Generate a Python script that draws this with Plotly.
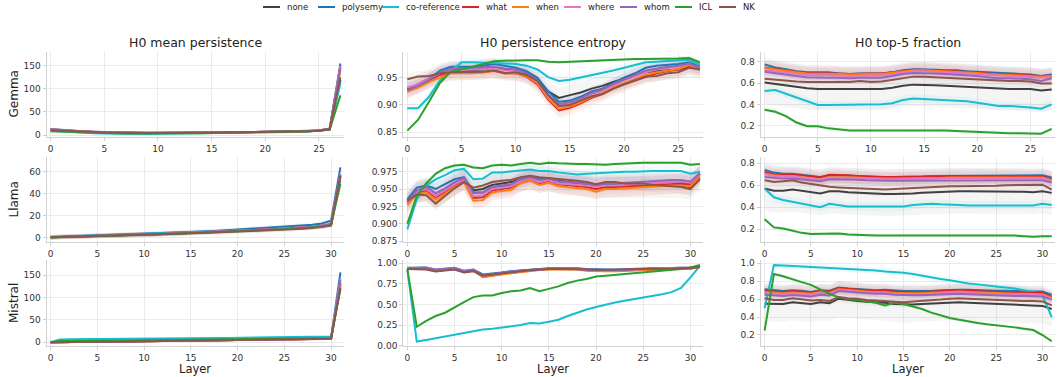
import plotly.graph_objects as go

SERIES = ["none", "polysemy", "co-reference", "what", "when", "where", "whom", "ICL", "NK"]
COLORS = ["#404040", "#1f77b4", "#17becf", "#d62728", "#ff7f0e", "#e377c2", "#9467bd", "#2ca02c", "#8c564b"]
MODELS = ["Gemma", "Llama", "Mistral"]
METRICS = ["H0 mean persistence", "H0 persistence entropy", "H0 top-5 fraction"]
LAYERS = {"Gemma": list(range(28)), "Llama": list(range(32)), "Mistral": list(range(32))}

# ---------------- Gemma ----------------
gemma_mp = {
    "none": [10, 9, 8, 7, 6.2, 5.5, 5, 4.6, 4.4, 4.3, 4.3, 4.4, 4.6, 4.8, 5, 5.2, 5.4, 5.6, 5.8, 6, 6.2, 6.5, 6.8, 7.3, 8, 9.2, 12.5, 120],
    "polysemy": [13, 11, 9.5, 8.2, 7.2, 6.4, 5.8, 5.3, 5, 4.9, 4.9, 5, 5.2, 5.4, 5.6, 5.8, 6, 6.2, 6.4, 6.6, 6.9, 7.2, 7.5, 8, 8.8, 10, 14, 155],
    "co-reference": [9, 7.5, 6, 5, 4, 3.3, 2.8, 2.5, 2.4, 2.4, 2.5, 2.7, 3, 3.3, 3.6, 3.9, 4.2, 4.5, 4.8, 5.1, 5.4, 5.8, 6.2, 6.8, 7.6, 9, 12, 112],
    "what": [12, 10.2, 8.8, 7.6, 6.7, 6, 5.4, 5, 4.7, 4.6, 4.6, 4.7, 4.9, 5.1, 5.3, 5.5, 5.7, 5.9, 6.1, 6.3, 6.6, 6.9, 7.2, 7.7, 8.5, 9.7, 13.5, 148],
    "when": [11.5, 9.8, 8.5, 7.4, 6.5, 5.8, 5.2, 4.8, 4.5, 4.4, 4.4, 4.5, 4.7, 4.9, 5.1, 5.3, 5.5, 5.7, 5.9, 6.1, 6.4, 6.7, 7, 7.5, 8.3, 9.5, 13.2, 140],
    "where": [12.5, 10.5, 9, 7.8, 6.9, 6.2, 5.6, 5.1, 4.8, 4.7, 4.7, 4.8, 5, 5.2, 5.4, 5.6, 5.8, 6, 6.2, 6.4, 6.7, 7, 7.3, 7.8, 8.6, 9.8, 13.8, 150],
    "whom": [12, 10, 8.7, 7.5, 6.6, 5.9, 5.3, 4.9, 4.6, 4.5, 4.5, 4.6, 4.8, 5, 5.2, 5.4, 5.6, 5.8, 6, 6.2, 6.5, 6.8, 7.1, 7.6, 8.4, 9.6, 13.5, 145],
    "ICL": [8, 7, 6, 5.2, 4.5, 4, 3.6, 3.3, 3.1, 3, 3, 3.1, 3.3, 3.6, 3.9, 4.2, 4.5, 4.8, 5.1, 5.4, 5.8, 6.2, 6.7, 7.3, 8.2, 9.6, 12, 86],
    "NK": [10.5, 9.2, 8, 7, 6.2, 5.5, 5, 4.6, 4.4, 4.3, 4.3, 4.4, 4.6, 4.8, 5, 5.2, 5.4, 5.6, 5.8, 6, 6.2, 6.5, 6.8, 7.3, 8, 9.2, 12.5, 125],
}
gemma_ent = {
    "none": [0.930, 0.938, 0.948, 0.958, 0.962, 0.963, 0.964, 0.965, 0.968, 0.965, 0.963, 0.958, 0.945, 0.925, 0.913, 0.918, 0.923, 0.930, 0.935, 0.942, 0.948, 0.953, 0.960, 0.962, 0.963, 0.965, 0.970, 0.966],
    "polysemy": [0.930, 0.937, 0.947, 0.963, 0.970, 0.970, 0.970, 0.972, 0.975, 0.972, 0.968, 0.962, 0.950, 0.925, 0.906, 0.908, 0.915, 0.925, 0.930, 0.940, 0.950, 0.958, 0.968, 0.972, 0.973, 0.975, 0.978, 0.970],
    "co-reference": [0.894, 0.894, 0.915, 0.945, 0.962, 0.978, 0.978, 0.978, 0.977, 0.976, 0.975, 0.972, 0.965, 0.951, 0.944, 0.946, 0.950, 0.955, 0.958, 0.963, 0.968, 0.973, 0.978, 0.979, 0.980, 0.982, 0.983, 0.974],
    "what": [0.928, 0.935, 0.945, 0.955, 0.960, 0.960, 0.960, 0.960, 0.963, 0.958, 0.958, 0.952, 0.938, 0.910, 0.890, 0.895, 0.903, 0.913, 0.920, 0.930, 0.938, 0.945, 0.952, 0.958, 0.962, 0.965, 0.972, 0.965],
    "when": [0.924, 0.932, 0.942, 0.950, 0.958, 0.958, 0.958, 0.960, 0.962, 0.958, 0.958, 0.953, 0.940, 0.912, 0.893, 0.897, 0.905, 0.915, 0.922, 0.932, 0.940, 0.947, 0.955, 0.960, 0.963, 0.966, 0.973, 0.966],
    "where": [0.932, 0.938, 0.948, 0.958, 0.963, 0.964, 0.964, 0.965, 0.967, 0.963, 0.962, 0.957, 0.943, 0.915, 0.898, 0.902, 0.910, 0.920, 0.926, 0.936, 0.945, 0.952, 0.960, 0.965, 0.968, 0.970, 0.976, 0.968],
    "whom": [0.927, 0.935, 0.946, 0.960, 0.966, 0.967, 0.967, 0.968, 0.970, 0.967, 0.965, 0.958, 0.945, 0.918, 0.902, 0.905, 0.912, 0.922, 0.928, 0.938, 0.947, 0.955, 0.963, 0.967, 0.970, 0.972, 0.976, 0.968],
    "ICL": [0.853, 0.873, 0.906, 0.940, 0.961, 0.965, 0.970, 0.975, 0.980, 0.981, 0.982, 0.982, 0.982, 0.979, 0.978, 0.979, 0.980, 0.981, 0.982, 0.983, 0.983, 0.984, 0.984, 0.984, 0.985, 0.985, 0.986, 0.978],
    "NK": [0.947, 0.952, 0.953, 0.958, 0.960, 0.960, 0.961, 0.961, 0.963, 0.958, 0.960, 0.955, 0.944, 0.918, 0.898, 0.900, 0.908, 0.916, 0.920, 0.930, 0.938, 0.945, 0.952, 0.953, 0.958, 0.960, 0.968, 0.965],
}
gemma_top5 = {
    "none": [0.605, 0.59, 0.575, 0.56, 0.55, 0.545, 0.545, 0.545, 0.54, 0.545, 0.545, 0.545, 0.555, 0.575, 0.585, 0.585, 0.58, 0.575, 0.57, 0.565, 0.56, 0.555, 0.545, 0.545, 0.545, 0.545, 0.53, 0.54],
    "polysemy": [0.775, 0.745, 0.73, 0.71, 0.70, 0.70, 0.70, 0.69, 0.685, 0.69, 0.69, 0.69, 0.70, 0.72, 0.73, 0.73, 0.725, 0.72, 0.72, 0.71, 0.705, 0.70, 0.69, 0.69, 0.685, 0.68, 0.665, 0.68],
    "co-reference": [0.525, 0.535, 0.50, 0.465, 0.43, 0.395, 0.395, 0.395, 0.395, 0.40, 0.40, 0.40, 0.41, 0.44, 0.455, 0.45, 0.445, 0.435, 0.435, 0.43, 0.415, 0.40, 0.385, 0.385, 0.38, 0.37, 0.36, 0.40],
    "what": [0.745, 0.73, 0.72, 0.705, 0.695, 0.695, 0.695, 0.69, 0.685, 0.69, 0.69, 0.69, 0.70, 0.715, 0.725, 0.725, 0.72, 0.715, 0.715, 0.705, 0.70, 0.69, 0.685, 0.685, 0.68, 0.675, 0.665, 0.67],
    "when": [0.74, 0.725, 0.715, 0.70, 0.69, 0.69, 0.69, 0.685, 0.68, 0.685, 0.685, 0.685, 0.695, 0.71, 0.72, 0.72, 0.715, 0.71, 0.71, 0.70, 0.695, 0.685, 0.68, 0.68, 0.675, 0.67, 0.66, 0.665],
    "where": [0.72, 0.71, 0.70, 0.685, 0.675, 0.675, 0.675, 0.67, 0.665, 0.67, 0.67, 0.67, 0.68, 0.70, 0.71, 0.71, 0.705, 0.70, 0.70, 0.69, 0.685, 0.675, 0.67, 0.67, 0.665, 0.66, 0.65, 0.655],
    "whom": [0.705, 0.69, 0.68, 0.665, 0.655, 0.65, 0.65, 0.65, 0.645, 0.65, 0.65, 0.65, 0.665, 0.685, 0.695, 0.695, 0.69, 0.685, 0.68, 0.67, 0.665, 0.655, 0.645, 0.645, 0.64, 0.635, 0.62, 0.645],
    "ICL": [0.35, 0.33, 0.29, 0.23, 0.195, 0.195, 0.175, 0.165, 0.155, 0.155, 0.155, 0.155, 0.155, 0.16, 0.16, 0.16, 0.16, 0.155, 0.15, 0.145, 0.14, 0.135, 0.135, 0.13, 0.13, 0.125, 0.125, 0.17],
    "NK": [0.64, 0.63, 0.625, 0.615, 0.61, 0.61, 0.615, 0.615, 0.61, 0.62, 0.61, 0.615, 0.63, 0.65, 0.66, 0.66, 0.655, 0.65, 0.645, 0.64, 0.635, 0.63, 0.62, 0.62, 0.62, 0.615, 0.595, 0.595],
}

# ---------------- Llama ----------------
llama_mp = {
    "none": [0.5, 0.7, 1, 1.3, 1.6, 1.9, 2.1, 2.3, 2.5, 2.7, 2.9, 3.1, 3.3, 3.6, 3.9, 4.2, 4.5, 4.9, 5.3, 5.7, 6.1, 6.5, 6.9, 7.3, 7.7, 8.1, 8.5, 9, 9.6, 10.4, 12, 55],
    "polysemy": [0.6, 0.9, 1.2, 1.5, 1.8, 2.1, 2.4, 2.7, 3, 3.2, 3.4, 3.6, 3.9, 4.2, 4.6, 5, 5.4, 5.9, 6.4, 6.9, 7.4, 7.9, 8.4, 8.9, 9.4, 9.9, 10.4, 11, 11.8, 13, 15.5, 64],
    "co-reference": [0.4, 0.7, 1, 1.3, 1.6, 1.9, 2.2, 2.4, 2.6, 2.8, 3, 3.2, 3.4, 3.7, 4, 4.3, 4.7, 5.1, 5.5, 5.9, 6.3, 6.7, 7.1, 7.5, 7.9, 8.3, 8.7, 9.2, 9.8, 10.6, 12.5, 52],
    "what": [0.5, 0.8, 1.1, 1.4, 1.7, 2, 2.2, 2.4, 2.6, 2.8, 3, 3.2, 3.4, 3.7, 4, 4.3, 4.7, 5.1, 5.5, 5.9, 6.3, 6.7, 7.1, 7.5, 7.9, 8.3, 8.7, 9.2, 9.8, 10.6, 12.2, 57],
    "when": [0.5, 0.8, 1.1, 1.4, 1.7, 2, 2.2, 2.4, 2.6, 2.8, 3, 3.2, 3.4, 3.7, 4, 4.3, 4.6, 5, 5.4, 5.8, 6.2, 6.6, 7, 7.4, 7.8, 8.2, 8.6, 9.1, 9.7, 10.5, 12, 56],
    "where": [0.5, 0.8, 1.1, 1.4, 1.7, 2, 2.2, 2.4, 2.6, 2.8, 3, 3.2, 3.4, 3.7, 4, 4.3, 4.7, 5.1, 5.5, 5.9, 6.3, 6.7, 7.1, 7.5, 7.9, 8.3, 8.8, 9.3, 9.9, 10.8, 12.4, 58],
    "whom": [0.5, 0.8, 1.1, 1.4, 1.7, 2, 2.2, 2.4, 2.6, 2.8, 3, 3.2, 3.4, 3.7, 4, 4.3, 4.7, 5.1, 5.5, 5.9, 6.3, 6.7, 7.1, 7.5, 7.9, 8.3, 8.7, 9.2, 9.8, 10.7, 12.3, 57],
    "ICL": [0.3, 0.5, 0.8, 1.1, 1.4, 1.7, 2, 2.2, 2.4, 2.6, 2.8, 3, 3.2, 3.5, 3.8, 4.1, 4.4, 4.7, 5, 5.4, 5.8, 6.2, 6.6, 7, 7.4, 7.8, 8.2, 8.7, 9.3, 10, 11.5, 49],
    "NK": [0.5, 0.7, 1, 1.3, 1.6, 1.9, 2.1, 2.3, 2.5, 2.7, 2.9, 3.1, 3.3, 3.5, 3.8, 4.1, 4.4, 4.7, 5, 5.3, 5.6, 5.9, 6.2, 6.5, 6.9, 7.3, 7.7, 8.2, 8.8, 9.6, 11, 56],
}
llama_ent = {
    "none": [0.934, 0.944, 0.950, 0.940, 0.948, 0.958, 0.965, 0.948, 0.950, 0.956, 0.958, 0.960, 0.964, 0.967, 0.964, 0.964, 0.962, 0.960, 0.959, 0.957, 0.955, 0.956, 0.956, 0.956, 0.956, 0.956, 0.955, 0.955, 0.955, 0.955, 0.953, 0.966],
    "polysemy": [0.935, 0.952, 0.955, 0.950, 0.957, 0.964, 0.967, 0.945, 0.945, 0.953, 0.954, 0.955, 0.962, 0.967, 0.966, 0.966, 0.961, 0.960, 0.960, 0.958, 0.955, 0.957, 0.957, 0.957, 0.958, 0.958, 0.958, 0.959, 0.960, 0.960, 0.958, 0.972],
    "co-reference": [0.892, 0.935, 0.955, 0.964, 0.970, 0.977, 0.979, 0.964, 0.965, 0.974, 0.974, 0.975, 0.977, 0.978, 0.976, 0.976, 0.974, 0.972, 0.971, 0.972, 0.973, 0.974, 0.974, 0.975, 0.975, 0.976, 0.976, 0.976, 0.976, 0.976, 0.972, 0.975],
    "what": [0.930, 0.945, 0.948, 0.938, 0.946, 0.955, 0.962, 0.937, 0.938, 0.948, 0.950, 0.952, 0.960, 0.964, 0.958, 0.962, 0.957, 0.956, 0.955, 0.953, 0.950, 0.953, 0.953, 0.953, 0.954, 0.955, 0.955, 0.956, 0.957, 0.958, 0.956, 0.970],
    "when": [0.927, 0.943, 0.945, 0.934, 0.943, 0.953, 0.960, 0.933, 0.934, 0.945, 0.947, 0.949, 0.958, 0.962, 0.956, 0.959, 0.954, 0.953, 0.952, 0.950, 0.946, 0.950, 0.950, 0.951, 0.952, 0.953, 0.953, 0.954, 0.955, 0.955, 0.954, 0.968],
    "where": [0.931, 0.946, 0.950, 0.940, 0.948, 0.957, 0.964, 0.940, 0.941, 0.950, 0.952, 0.954, 0.961, 0.965, 0.960, 0.963, 0.958, 0.957, 0.957, 0.955, 0.953, 0.955, 0.955, 0.956, 0.957, 0.958, 0.958, 0.959, 0.960, 0.961, 0.959, 0.972],
    "whom": [0.932, 0.948, 0.953, 0.944, 0.951, 0.960, 0.966, 0.944, 0.945, 0.953, 0.955, 0.957, 0.964, 0.967, 0.963, 0.965, 0.961, 0.960, 0.960, 0.958, 0.956, 0.958, 0.958, 0.959, 0.960, 0.961, 0.961, 0.962, 0.963, 0.963, 0.961, 0.973],
    "ICL": [0.900, 0.940, 0.958, 0.972, 0.980, 0.984, 0.985, 0.981, 0.980, 0.984, 0.985, 0.984, 0.986, 0.988, 0.986, 0.988, 0.987, 0.986, 0.986, 0.986, 0.985, 0.985, 0.986, 0.987, 0.987, 0.988, 0.988, 0.988, 0.987, 0.988, 0.985, 0.986],
    "NK": [0.933, 0.942, 0.941, 0.929, 0.940, 0.951, 0.960, 0.952, 0.955, 0.960, 0.962, 0.963, 0.967, 0.969, 0.967, 0.966, 0.965, 0.963, 0.962, 0.960, 0.957, 0.960, 0.960, 0.958, 0.958, 0.958, 0.956, 0.955, 0.955, 0.953, 0.950, 0.964],
}
llama_top5 = {
    "none": [0.57, 0.55, 0.55, 0.56, 0.55, 0.535, 0.525, 0.545, 0.545, 0.535, 0.53, 0.525, 0.52, 0.52, 0.52, 0.52, 0.525, 0.53, 0.535, 0.54, 0.545, 0.545, 0.545, 0.545, 0.545, 0.545, 0.545, 0.54, 0.54, 0.535, 0.545, 0.53],
    "polysemy": [0.74, 0.715, 0.705, 0.705, 0.695, 0.685, 0.675, 0.69, 0.69, 0.685, 0.685, 0.68, 0.675, 0.67, 0.675, 0.675, 0.68, 0.68, 0.685, 0.685, 0.69, 0.69, 0.69, 0.69, 0.69, 0.69, 0.69, 0.69, 0.69, 0.69, 0.69, 0.67],
    "co-reference": [0.57, 0.49, 0.465, 0.45, 0.435, 0.415, 0.40, 0.43, 0.42, 0.405, 0.405, 0.405, 0.40, 0.40, 0.40, 0.405, 0.42, 0.425, 0.43, 0.425, 0.425, 0.42, 0.415, 0.415, 0.415, 0.415, 0.415, 0.415, 0.415, 0.415, 0.43, 0.42],
    "what": [0.72, 0.70, 0.695, 0.695, 0.69, 0.68, 0.67, 0.695, 0.695, 0.69, 0.685, 0.68, 0.675, 0.675, 0.675, 0.675, 0.68, 0.68, 0.68, 0.68, 0.685, 0.685, 0.685, 0.685, 0.685, 0.68, 0.68, 0.68, 0.68, 0.675, 0.68, 0.655],
    "when": [0.705, 0.69, 0.685, 0.685, 0.675, 0.665, 0.655, 0.675, 0.675, 0.67, 0.67, 0.665, 0.66, 0.66, 0.66, 0.66, 0.665, 0.665, 0.665, 0.665, 0.67, 0.67, 0.67, 0.67, 0.67, 0.67, 0.67, 0.67, 0.67, 0.665, 0.67, 0.645],
    "where": [0.70, 0.685, 0.68, 0.68, 0.67, 0.66, 0.65, 0.67, 0.67, 0.665, 0.665, 0.66, 0.655, 0.655, 0.655, 0.655, 0.66, 0.66, 0.66, 0.66, 0.665, 0.665, 0.665, 0.665, 0.665, 0.665, 0.665, 0.665, 0.665, 0.66, 0.665, 0.64],
    "whom": [0.675, 0.665, 0.66, 0.66, 0.65, 0.64, 0.635, 0.655, 0.655, 0.65, 0.65, 0.645, 0.64, 0.64, 0.64, 0.64, 0.645, 0.645, 0.645, 0.645, 0.645, 0.645, 0.645, 0.645, 0.645, 0.645, 0.645, 0.645, 0.645, 0.64, 0.645, 0.625],
    "ICL": [0.29, 0.215, 0.205, 0.185, 0.165, 0.155, 0.155, 0.16, 0.16, 0.15, 0.145, 0.145, 0.14, 0.14, 0.14, 0.14, 0.14, 0.14, 0.14, 0.14, 0.145, 0.14, 0.14, 0.14, 0.14, 0.14, 0.14, 0.14, 0.135, 0.13, 0.135, 0.135],
    "NK": [0.645, 0.63, 0.635, 0.645, 0.625, 0.61, 0.595, 0.585, 0.58, 0.575, 0.57, 0.565, 0.56, 0.56, 0.565, 0.57, 0.575, 0.58, 0.585, 0.585, 0.59, 0.59, 0.59, 0.595, 0.595, 0.595, 0.6, 0.6, 0.6, 0.605, 0.605, 0.56],
}

# ---------------- Mistral ----------------
mistral_mp = {
    "none": [0, 0.5, 0.8, 1, 1.2, 1.4, 1.6, 1.8, 2, 2.2, 2.4, 2.6, 2.8, 3, 3.2, 3.5, 3.8, 4.1, 4.4, 4.7, 5, 5.3, 5.6, 5.9, 6.2, 6.5, 6.8, 7.1, 7.4, 7.7, 8, 125],
    "polysemy": [0, 0.6, 0.9, 1.1, 1.3, 1.5, 1.7, 1.9, 2.1, 2.3, 2.5, 2.7, 2.9, 3.1, 3.4, 3.7, 4, 4.3, 4.6, 4.9, 5.2, 5.5, 5.8, 6.1, 6.4, 6.7, 7, 7.3, 7.6, 7.9, 8.3, 156],
    "co-reference": [0, 6.5, 6.6, 6.7, 6.8, 6.9, 7, 7.1, 7.2, 7.3, 7.5, 7.7, 7.9, 8.1, 8.3, 8.6, 8.9, 9.2, 9.5, 9.8, 10.1, 10.4, 10.7, 11, 11.3, 11.6, 11.9, 12.2, 12.6, 13.2, 13, 130],
    "what": [0, 0.5, 0.8, 1, 1.2, 1.4, 1.6, 1.8, 2, 2.2, 2.4, 2.6, 2.8, 3, 3.2, 3.5, 3.8, 4.1, 4.4, 4.7, 5, 5.3, 5.6, 5.9, 6.2, 6.5, 6.8, 7.1, 7.4, 7.7, 8.1, 132],
    "when": [0, 0.5, 0.8, 1, 1.2, 1.4, 1.6, 1.8, 2, 2.2, 2.4, 2.6, 2.8, 3, 3.2, 3.5, 3.8, 4.1, 4.4, 4.7, 5, 5.3, 5.6, 5.9, 6.2, 6.5, 6.8, 7.1, 7.4, 7.7, 8, 130],
    "where": [0, 0.6, 0.9, 1.1, 1.3, 1.5, 1.7, 1.9, 2.1, 2.3, 2.5, 2.7, 2.9, 3.1, 3.3, 3.6, 3.9, 4.2, 4.5, 4.8, 5.1, 5.4, 5.7, 6, 6.3, 6.6, 6.9, 7.2, 7.5, 7.8, 8.2, 142],
    "whom": [0, 0.5, 0.8, 1, 1.2, 1.4, 1.6, 1.8, 2, 2.2, 2.4, 2.6, 2.8, 3, 3.3, 3.6, 3.9, 4.2, 4.5, 4.8, 5.1, 5.4, 5.7, 6, 6.3, 6.6, 6.9, 7.2, 7.5, 7.8, 8.1, 138],
    "ICL": [0, 3, 3.2, 3.4, 3.6, 3.8, 4, 4.2, 4.4, 4.6, 4.8, 5, 5.2, 5.4, 5.6, 5.8, 6, 6.2, 6.4, 6.6, 6.8, 7, 7.2, 7.4, 7.6, 7.8, 8, 8.3, 8.6, 9, 9.5, 120],
    "NK": [0, 0.4, 0.6, 0.8, 1, 1.2, 1.4, 1.6, 1.8, 2, 2.2, 2.4, 2.6, 2.8, 3, 3.3, 3.6, 3.9, 4.2, 4.5, 4.8, 5.1, 5.4, 5.7, 6, 6.3, 6.6, 6.9, 7.2, 7.5, 7.8, 120],
}
mistral_ent = {
    "none": [0.935, 0.935, 0.935, 0.91, 0.925, 0.935, 0.895, 0.915, 0.855, 0.87, 0.885, 0.90, 0.91, 0.92, 0.93, 0.935, 0.935, 0.935, 0.935, 0.925, 0.92, 0.92, 0.92, 0.925, 0.93, 0.93, 0.935, 0.935, 0.94, 0.94, 0.94, 0.955],
    "polysemy": [0.945, 0.95, 0.95, 0.925, 0.935, 0.945, 0.91, 0.925, 0.865, 0.875, 0.89, 0.905, 0.915, 0.925, 0.935, 0.94, 0.94, 0.94, 0.94, 0.93, 0.925, 0.925, 0.925, 0.93, 0.935, 0.935, 0.94, 0.94, 0.945, 0.945, 0.945, 0.96],
    "co-reference": [0.93, 0.05, 0.07, 0.09, 0.11, 0.13, 0.155, 0.175, 0.195, 0.205, 0.22, 0.24, 0.25, 0.275, 0.27, 0.29, 0.315, 0.36, 0.40, 0.44, 0.47, 0.50, 0.525, 0.545, 0.565, 0.585, 0.60, 0.625, 0.65, 0.70, 0.83, 0.97],
    "what": [0.935, 0.94, 0.94, 0.915, 0.925, 0.935, 0.90, 0.915, 0.835, 0.855, 0.87, 0.885, 0.90, 0.91, 0.925, 0.93, 0.93, 0.93, 0.93, 0.915, 0.91, 0.91, 0.91, 0.915, 0.92, 0.925, 0.93, 0.93, 0.935, 0.94, 0.94, 0.96],
    "when": [0.93, 0.935, 0.935, 0.91, 0.92, 0.93, 0.895, 0.91, 0.83, 0.85, 0.865, 0.88, 0.895, 0.905, 0.92, 0.925, 0.925, 0.925, 0.925, 0.91, 0.905, 0.905, 0.905, 0.91, 0.915, 0.92, 0.925, 0.925, 0.93, 0.935, 0.935, 0.955],
    "where": [0.94, 0.945, 0.945, 0.92, 0.93, 0.94, 0.905, 0.92, 0.845, 0.865, 0.88, 0.895, 0.905, 0.915, 0.93, 0.935, 0.935, 0.935, 0.935, 0.92, 0.915, 0.915, 0.915, 0.92, 0.925, 0.93, 0.935, 0.935, 0.94, 0.945, 0.945, 0.96],
    "whom": [0.94, 0.945, 0.945, 0.92, 0.93, 0.94, 0.905, 0.92, 0.85, 0.87, 0.885, 0.9, 0.91, 0.92, 0.93, 0.935, 0.935, 0.935, 0.935, 0.925, 0.92, 0.92, 0.92, 0.925, 0.93, 0.93, 0.935, 0.935, 0.94, 0.945, 0.945, 0.96],
    "ICL": [0.93, 0.23, 0.30, 0.36, 0.40, 0.47, 0.53, 0.59, 0.61, 0.61, 0.64, 0.66, 0.67, 0.70, 0.66, 0.69, 0.72, 0.76, 0.79, 0.81, 0.84, 0.85, 0.86, 0.87, 0.88, 0.89, 0.90, 0.91, 0.92, 0.93, 0.95, 0.98],
    "NK": [0.93, 0.93, 0.925, 0.90, 0.915, 0.925, 0.89, 0.905, 0.85, 0.865, 0.88, 0.895, 0.905, 0.915, 0.925, 0.93, 0.93, 0.93, 0.93, 0.925, 0.92, 0.92, 0.92, 0.925, 0.93, 0.93, 0.935, 0.935, 0.935, 0.94, 0.94, 0.955],
}
mistral_top5 = {
    "none": [0.55, 0.545, 0.545, 0.565, 0.555, 0.545, 0.565, 0.555, 0.605, 0.59, 0.58, 0.57, 0.565, 0.56, 0.545, 0.54, 0.54, 0.545, 0.55, 0.56, 0.565, 0.565, 0.56, 0.555, 0.55, 0.55, 0.545, 0.54, 0.535, 0.53, 0.525, 0.49],
    "polysemy": [0.71, 0.70, 0.69, 0.70, 0.695, 0.68, 0.70, 0.695, 0.73, 0.72, 0.715, 0.705, 0.70, 0.705, 0.695, 0.69, 0.69, 0.69, 0.69, 0.70, 0.705, 0.705, 0.705, 0.70, 0.70, 0.695, 0.695, 0.69, 0.69, 0.685, 0.685, 0.65],
    "co-reference": [0.50, 0.98, 0.975, 0.97, 0.965, 0.96, 0.955, 0.95, 0.945, 0.94, 0.935, 0.93, 0.92, 0.91, 0.905, 0.895, 0.88, 0.86, 0.84, 0.825, 0.81, 0.79, 0.775, 0.765, 0.75, 0.74, 0.73, 0.72, 0.70, 0.68, 0.64, 0.40],
    "what": [0.70, 0.685, 0.68, 0.69, 0.685, 0.675, 0.695, 0.685, 0.725, 0.715, 0.71, 0.70, 0.695, 0.695, 0.685, 0.68, 0.68, 0.68, 0.685, 0.695, 0.70, 0.70, 0.695, 0.69, 0.685, 0.685, 0.68, 0.675, 0.675, 0.67, 0.67, 0.625],
    "when": [0.68, 0.67, 0.665, 0.675, 0.67, 0.66, 0.68, 0.67, 0.71, 0.70, 0.695, 0.685, 0.68, 0.68, 0.67, 0.665, 0.665, 0.665, 0.67, 0.68, 0.685, 0.685, 0.68, 0.675, 0.67, 0.67, 0.665, 0.66, 0.66, 0.655, 0.655, 0.615],
    "where": [0.67, 0.66, 0.655, 0.665, 0.66, 0.65, 0.67, 0.66, 0.70, 0.69, 0.685, 0.675, 0.67, 0.67, 0.66, 0.655, 0.655, 0.655, 0.66, 0.67, 0.675, 0.675, 0.67, 0.665, 0.66, 0.66, 0.655, 0.65, 0.65, 0.645, 0.645, 0.605],
    "whom": [0.65, 0.64, 0.635, 0.645, 0.64, 0.63, 0.65, 0.64, 0.69, 0.68, 0.675, 0.665, 0.66, 0.66, 0.65, 0.645, 0.645, 0.645, 0.65, 0.655, 0.66, 0.66, 0.655, 0.65, 0.645, 0.645, 0.64, 0.635, 0.635, 0.63, 0.63, 0.595],
    "ICL": [0.25, 0.88, 0.855, 0.82, 0.79, 0.76, 0.71, 0.66, 0.62, 0.60, 0.59, 0.575, 0.56, 0.53, 0.56, 0.545, 0.52, 0.49, 0.45, 0.42, 0.39, 0.37, 0.35, 0.335, 0.32, 0.31, 0.30, 0.285, 0.27, 0.255, 0.20, 0.13],
    "NK": [0.61, 0.59, 0.59, 0.61, 0.60, 0.585, 0.59, 0.58, 0.625, 0.61, 0.605, 0.59, 0.585, 0.58, 0.57, 0.565, 0.575, 0.58, 0.585, 0.595, 0.605, 0.61, 0.605, 0.60, 0.595, 0.595, 0.59, 0.585, 0.58, 0.58, 0.575, 0.53],
}

# spread (shaded band half-width) per series, in series order
spread_mp = [2, 2, 2, 2, 2, 2, 2, 2, 2]
spread_ent = [0.018, 0.01, 0.008, 0.014, 0.012, 0.012, 0.012, 0.003, 0.01]
spread_top5 = [0.2, 0.07, 0.04, 0.07, 0.06, 0.06, 0.06, 0.02, 0.06]

PANELS = [
    [gemma_mp, gemma_ent, gemma_top5],
    [llama_mp, llama_ent, llama_top5],
    [mistral_mp, mistral_ent, mistral_top5],
]
SPREADS = [spread_mp, spread_ent, spread_top5]

# layout geometry (paper fractions)
COL_DOM = [[0.0441, 0.3247], [0.3812, 0.6645], [0.719, 0.997]]
ROW_DOM = [[0.6366, 0.8621], [0.358, 0.5836], [0.0822, 0.3103]]
YRANGES = [
    [[-4.3, 180], [0.8414, 0.997], [0.094, 0.891]],
    [[-3.9, 73.4], [0.8736, 0.9962], [0.0813, 0.8575]],
    [[-8.2, 183.4], [-0.004, 1.04], [0.077, 1.037]],
]
YTICKS = [
    [[0, 50, 100, 150], [0.85, 0.90, 0.95], [0.2, 0.4, 0.6, 0.8]],
    [[0, 20, 40, 60], [0.875, 0.900, 0.925, 0.950, 0.975], [0.2, 0.4, 0.6, 0.8]],
    [[0, 50, 100, 150], [0.0, 0.25, 0.5, 0.75, 1.0], [0.2, 0.4, 0.6, 0.8, 1.0]],
]
YFMT = [
    ["d", ".2f", ".1f"],
    ["d", ".3f", ".1f"],
    ["d", ".2f", ".1f"],
]
# custom legend entry start positions (px from left)
LEGEND_X = [263, 318, 382, 462, 512, 564, 620, 675, 719]
W, H = 1058, 377


def rgba(hexc, a):
    h = hexc.lstrip("#")
    return "rgba(%d,%d,%d,%.3f)" % (int(h[0:2], 16), int(h[2:4], 16), int(h[4:6], 16), a)


fig = go.Figure()
FONT = "DejaVu Sans"
GRID = "#ebebeb"
AXLINE = "#d0d0d0"

for r, model in enumerate(MODELS):
    xs = LAYERS[model]
    for c in range(3):
        idx = r * 3 + c + 1
        xa = "x" if idx == 1 else "x%d" % idx
        ya = "y" if idx == 1 else "y%d" % idx
        data = PANELS[r][c]
        for k, name in enumerate(SERIES):
            vals = data[name]
            s = SPREADS[c][k]
            up = [v + s for v in vals]
            lo = [v - s for v in vals]
            fig.add_trace(go.Scatter(
                x=xs + xs[::-1], y=up + lo[::-1], xaxis=xa, yaxis=ya,
                fill="toself", fillcolor=rgba(COLORS[k], 0.06 if k != 0 else 0.05),
                line=dict(width=0), mode="lines", hoverinfo="skip", showlegend=False))
        for k, name in enumerate(SERIES):
            fig.add_trace(go.Scatter(
                x=xs, y=data[name], xaxis=xa, yaxis=ya, mode="lines", name=name,
                line=dict(color=COLORS[k], width=2), showlegend=False))
        xmax = xs[-1]
        xkey = "xaxis" if idx == 1 else "xaxis%d" % idx
        ykey = "yaxis" if idx == 1 else "yaxis%d" % idx
        fig.layout[xkey] = dict(
            domain=COL_DOM[c], anchor=ya, range=[-0.37 * xmax / 27, xmax + 0.29 * xmax / 27],
            tickvals=[0, 5, 10, 15, 20, 25, 30] if xmax > 27 else [0, 5, 10, 15, 20, 25],
            showgrid=True, gridcolor=GRID, gridwidth=1, zeroline=False, automargin=False,
            showline=True, linecolor=AXLINE, linewidth=1.2,
            ticks="outside", ticklen=3, tickcolor=AXLINE,
            tickfont=dict(size=9, color="#333333", family=FONT))
        fig.layout[ykey] = dict(
            domain=ROW_DOM[r], anchor=xa, range=YRANGES[r][c], tickvals=YTICKS[r][c],
            tickformat=YFMT[r][c], automargin=False,
            showgrid=True, gridcolor=GRID, gridwidth=1, zeroline=False,
            showline=True, linecolor=AXLINE, linewidth=1.2,
            ticks="outside", ticklen=3, tickcolor=AXLINE,
            tickfont=dict(size=9, color="#333333", family=FONT))

annotations = []
shapes = []
for c, title in enumerate(METRICS):
    cx = (COL_DOM[c][0] + COL_DOM[c][1]) / 2
    annotations.append(dict(text=title, x=cx, y=1 - 43 / H, xref="paper", yref="paper",
                            xanchor="center", yanchor="middle", showarrow=False,
                            font=dict(size=12.5, color="#222222", family=FONT)))
    annotations.append(dict(text="Layer", x=cx, y=1 - 368.5 / H, xref="paper", yref="paper",
                            xanchor="center", yanchor="middle", showarrow=False,
                            font=dict(size=11.5, color="#222222", family=FONT)))
for r, model in enumerate(MODELS):
    cy = (ROW_DOM[r][0] + ROW_DOM[r][1]) / 2
    annotations.append(dict(text=model, x=14 / W, y=cy, xref="paper", yref="paper",
                            xanchor="center", yanchor="middle", showarrow=False, textangle=-90,
                            font=dict(size=12, color="#222222", family=FONT)))

# legend (drawn as paper-space samples + labels)
ly = 1 - 7 / H
for k, name in enumerate(SERIES):
    x0 = LEGEND_X[k] / W
    x1 = (LEGEND_X[k] + 17) / W
    shapes.append(dict(type="line", xref="paper", yref="paper", x0=x0, x1=x1, y0=ly, y1=ly,
                       line=dict(color=COLORS[k], width=2)))
    annotations.append(dict(text=name, x=(LEGEND_X[k] + 22) / W, y=ly, xref="paper", yref="paper",
                            xanchor="left", yanchor="middle", showarrow=False,
                            font=dict(size=8.5, color="#222222", family=FONT)))

fig.update_layout(
    width=W, height=H,
    margin=dict(l=0, r=0, t=0, b=0),
    paper_bgcolor="white", plot_bgcolor="white",
    font=dict(family=FONT, color="#222222"),
    annotations=annotations, shapes=shapes,
    showlegend=False,
)

fig.write_html("out.html", config={"displayModeBar": False},
               post_script="document.body.style.margin='0px';document.body.style.overflow='hidden';")
